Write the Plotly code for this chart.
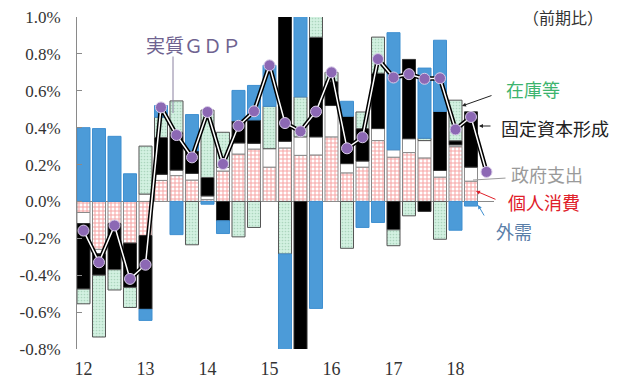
import plotly.graph_objects as go

# ---- data (percentage-point contributions, q/q) ----
quarters = ["12Q1","12Q2","12Q3","12Q4","13Q1","13Q2","13Q3","13Q4",
            "14Q1","14Q2","14Q3","14Q4","15Q1","15Q2","15Q3","15Q4",
            "16Q1","16Q2","16Q3","16Q4","17Q1","17Q2","17Q3","17Q4",
            "18Q1","18Q2","18Q3"]
year_labels = ["12","13","14","15","16","17","18"]

consumption = [-0.06,-0.26,-0.12,-0.226,-0.185,0.114,0.14,0.116,
               0.01,0.165,0.257,0.284,0.186,0.29,0.25,0.252,
               0.35,0.155,0.186,0.33,0.24,0.265,0.236,0.132,
               0.297,0.11,None]
government = [-0.06,-0.024,None,None,0.04,0.033,0.03,0.036,
              0.02,0.02,0.06,0.031,0.10,0.036,0.10,0.098,
              0.17,0.05,0.033,0.065,0.04,0.075,0.094,0.036,
              0.01,0.076,None]
fixed_capital = [-0.355,-0.116,-0.25,-0.24,-0.40,0.20,0.205,0.123,
                 0.10,-0.105,0.12,0.127,None,0.95,-0.837,0.54,
                 0.13,0.257,0.176,0.30,-0.154,0.43,-0.054,0.32,
                 0.022,0.30,None]
inventory = [-0.08,-0.335,-0.11,-0.109,0.26,0.11,0.17,-0.235,
             0.365,0.19,-0.192,-0.141,0.23,-0.285,0.217,0.177,
             0.05,-0.254,0.09,0.196,-0.086,-0.078,0.013,-0.205,
             0.22,None,None]
net_exports = [0.40,0.395,0.353,0.15,-0.06,0.063,-0.18,0.196,
               -0.015,-0.069,0.165,0.187,0.222,-0.566,0.65,-0.58,
               None,0.081,-0.141,-0.114,0.635,None,0.38,0.386,
               -0.156,-0.025,None]
real_gdp = [-0.158,-0.33,-0.13,-0.42,-0.343,0.51,0.36,0.239,
            0.485,0.203,0.41,0.489,0.738,0.425,0.38,0.487,
            0.70,0.288,0.348,0.772,0.672,0.69,0.665,0.668,
            0.39,0.458,0.16]

y_tickvals = [1.0,0.8,0.6,0.4,0.2,0.0,-0.2,-0.4,-0.6,-0.8]
y_ticktext = ["1.0%","0.8%","0.6%","0.4%","0.2%","0.0%","-0.2%","-0.4%","-0.6%","-0.8%"]

xs = list(range(len(quarters)))

fig = go.Figure()

fig.add_trace(go.Bar(x=xs, y=consumption, name="個人消費",
    marker=dict(color="white", line=dict(color="#8a8a8a", width=1),
                pattern=dict(shape="+", fgcolor="#f04848", bgcolor="white",
                             size=4, solidity=0.45))))
fig.add_trace(go.Bar(x=xs, y=government, name="政府支出",
    marker=dict(color="white", line=dict(color="#8a8a8a", width=1))))
fig.add_trace(go.Bar(x=xs, y=fixed_capital, name="固定資本形成",
    marker=dict(color="black", line=dict(color="#333", width=1))))
fig.add_trace(go.Bar(x=xs, y=inventory, name="在庫等",
    marker=dict(color="#cdeedd", line=dict(color="#555", width=1),
                pattern=dict(shape=".", fgcolor="#86b99c", bgcolor="#d3f1e1",
                             size=3, solidity=0.25))))
fig.add_trace(go.Bar(x=xs, y=net_exports, name="外需",
    marker=dict(color="#4c9bd8", line=dict(color="#3f8fd0", width=1))))

fig.add_trace(go.Scatter(x=xs, y=real_gdp, mode="lines",
    line=dict(color="black", width=4.5), hoverinfo="skip"))
fig.add_trace(go.Scatter(x=xs, y=real_gdp, mode="lines",
    line=dict(color="white", width=1.5), hoverinfo="skip"))
fig.add_trace(go.Scatter(x=xs, y=real_gdp, mode="markers", name="実質ＧＤＰ",
    marker=dict(color="#8c68b4", size=11, line=dict(color="#d8cce8", width=1))))

# pixel helpers for layout annotations
L, R, T, B = 77, 494, 17, 349
def px(xp):  # pixel -> data x
    return (xp - 83.5) / 15.5
def py(yp):  # pixel -> data y
    return 1.0 - (yp - T) / (B - T) * 1.8
def pxp(xp):
    return (xp - L) / (R - L)
def pyp(yp):
    return (B - yp) / (B - T)

cjk = "Noto Sans CJK JP"
serif = "Liberation Serif, DejaVu Serif, Times New Roman, serif"
ann = []
def label(text, xc, yc, color, size=18):
    ann.append(dict(text=text, x=pxp(xc), y=pyp(yc), xref="paper", yref="paper",
                    showarrow=False, font=dict(family=cjk, size=size, color=color),
                    xanchor="center", yanchor="middle"))
label("実質ＧＤＰ", 193, 44, "#6f6390", size=19)
label("在庫等", 533, 89, "#3cb46e")
label("固定資本形成", 555, 128, "#222222")
label("政府支出", 547, 174, "#9a9a9a")
label("個人消費", 544, 202, "#e0202a")
label("外需", 514, 231, "#5a7ea8")
label("（前期比）", 563, 17, "#333333", size=16)

def arrow(hx, hy, tx, ty, color, head=2):
    ann.append(dict(text="", x=px(hx), y=py(hy), xref="x", yref="y",
                    ax=tx - hx, ay=ty - hy, showarrow=True, arrowhead=head,
                    arrowsize=0.8, arrowwidth=1, arrowcolor=color, standoff=0))
arrow(462, 106, 493, 95, "#222222")
arrow(479, 126, 492, 126, "#222222")
arrow(473, 180, 507, 178, "#9a9a9a", head=0)
arrow(476, 191, 497, 200, "#e0202a")
arrow(478, 205, 485, 217, "#3f8fd0")
arrow(173, 113, 173, 55, "#8a80a0", head=0)

fig.update_layout(
    width=617, height=383,
    margin=dict(l=L, r=617 - R, t=T, b=383 - B),
    barmode="relative", bargap=0.16,
    plot_bgcolor="white", paper_bgcolor="white",
    showlegend=False,
    annotations=ann,
    font=dict(family=serif, size=16, color="#333"),
)
fig.update_xaxes(range=[px(L), px(R)], tickvals=[0,4,8,12,16,20,24],
                 ticktext=year_labels, showgrid=False, zeroline=False,
                 showline=False, ticks="outside", ticklen=3,
                 tickcolor="rgba(0,0,0,0)", automargin=False,
                 tickfont=dict(family=serif, size=18, color="#333"))
fig.update_yaxes(range=[-0.8, 1.0], tickvals=y_tickvals, ticktext=y_ticktext,
                 showgrid=False, zeroline=True, zerolinecolor="#8a8a8a",
                 zerolinewidth=1, showline=True, linecolor="#8a8a8a",
                 ticks="inside", ticklen=5, tickcolor="#8a8a8a",
                 ticklabelstandoff=12, automargin=False,
                 tickfont=dict(family=serif, size=17, color="#333"))

fig.write_html("out.html")
